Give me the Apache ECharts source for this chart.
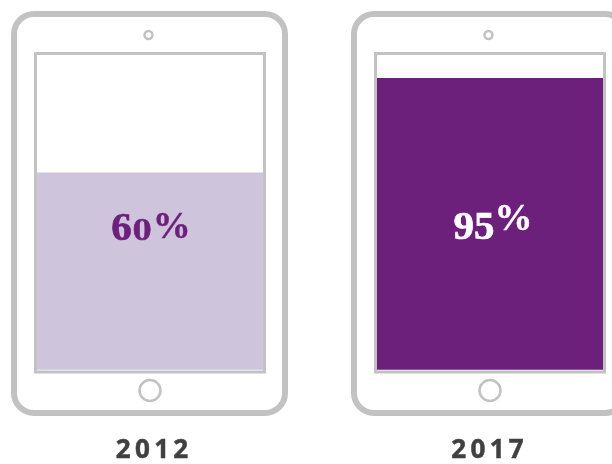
<!DOCTYPE html>
<html>
<head>
<meta charset="utf-8">
<style>
  html, body { margin: 0; padding: 0; background: #fff; }
  #main { width: 612px; height: 464px; }
</style>
<script src="https://cdn.jsdelivr.net/npm/echarts@6/dist/echarts.min.js"></script>
</head>
<body>
<div id="main"></div>
<script>
var years = ['2012', '2017']
var shares = [60, 95]
// the fills in the picture are not to one scale, so each tablet has its own top
var axisMax = [95.8, 102.5]

var grey = '#C2C2C2'
var barColors = ['#CEC4DC', '#6C1F7B']
var labelColors = ['#6C1F7B', '#FFFFFF']
// left edge of each tablet
var tabletX = [14, 354]

// old style figures: the picture's font sets digits at different heights
function digitKey(ch) {
  if (ch === '6' || ch === '8') return 'tall'
  if (ch === '0' || ch === '1' || ch === '2') return 'small'
  return 'low'
}
function shareLabel(v) {
  var s = String(v).split('').map(function (ch) {
    return '{' + digitKey(ch) + '|' + ch + '}'
  }).join('')
  return s + '{pct' + (v === 95 ? 'Up' : '') + '|%}'
}
function richFor(color) {
  var base = {
    color: color,
    fontFamily: 'Liberation Serif',
    fontWeight: 'bold',
    lineHeight: 44,
    verticalAlign: 'bottom',
    textBorderColor: color,
    textBorderWidth: 0.7
  }
  return {
    tall: Object.assign({}, base, { fontSize: 41 }),
    small: Object.assign({}, base, { fontFamily: 'DejaVu Serif', fontSize: 27, padding: [0, 1, 4, 1] }),
    low: Object.assign({}, base, { fontSize: 41 }),
    pct: Object.assign({}, base, { fontSize: 38, textBorderWidth: 0.4, padding: [0, 0, 3, 0] }),
    pctUp: Object.assign({}, base, { fontSize: 38, textBorderWidth: 0.4, padding: [0, 0, 10, 0] })
  }
}

var graphic = []
tabletX.forEach(function (x) {
  graphic.push(
    { type: 'rect', z: 10, shape: { x: x, y: 14, width: 271, height: 399, r: 20 }, style: { fill: 'none', stroke: grey, lineWidth: 6 } },
    { type: 'rect', z: 10, shape: { x: x + 21.5, y: 53.5, width: 229, height: 318.5 }, style: { fill: 'none', stroke: grey, lineWidth: 3 } },
    { type: 'circle', z: 10, shape: { cx: x + 134.5, cy: 35, r: 4 }, style: { fill: 'none', stroke: grey, lineWidth: 2.5 } },
    { type: 'circle', z: 10, shape: { cx: x + 136, cy: 390.5, r: 10.5 }, style: { fill: 'none', stroke: grey, lineWidth: 2.5 } }
  )
})

var grids = [], xAxes = [], yAxes = [], series = []
years.forEach(function (year, i) {
  grids.push({ left: tabletX[i] + 23, width: 226, top: 55, height: 316 })
  xAxes.push({
    gridIndex: i,
    type: 'category',
    data: [year],
    axisLine: { show: false },
    axisTick: { show: false },
    axisLabel: {
      margin: 68,
      fontFamily: 'Open Sans',
      fontWeight: 'bold',
      fontSize: 26,
      color: '#404040',
      textBorderColor: '#404040',
      textBorderWidth: 0.5,
      padding: [0, 0, 0, i === 0 ? 4 : -5],
      formatter: function (v) { return v.split('').join('\u2009') }
    }
  })
  yAxes.push({ gridIndex: i, type: 'value', min: 0, max: axisMax[i], show: false })
  series.push({
    type: 'bar',
    xAxisIndex: i,
    yAxisIndex: i,
    barWidth: '100%',
    silent: true,
    data: [shares[i]],
    itemStyle: { color: barColors[i] },
    label: {
      show: true,
      position: 'inside',
      offset: [i === 0 ? 1 : 3, i === 0 ? -43 : 3],
      formatter: function (p) { return shareLabel(p.value) },
      rich: richFor(labelColors[i])
    }
  })
})

var chart = echarts.init(document.getElementById('main'))
chart.setOption({
  animation: false,
  grid: grids,
  xAxis: xAxes,
  yAxis: yAxes,
  series: series,
  graphic: graphic
})
</script>
</body>
</html>
